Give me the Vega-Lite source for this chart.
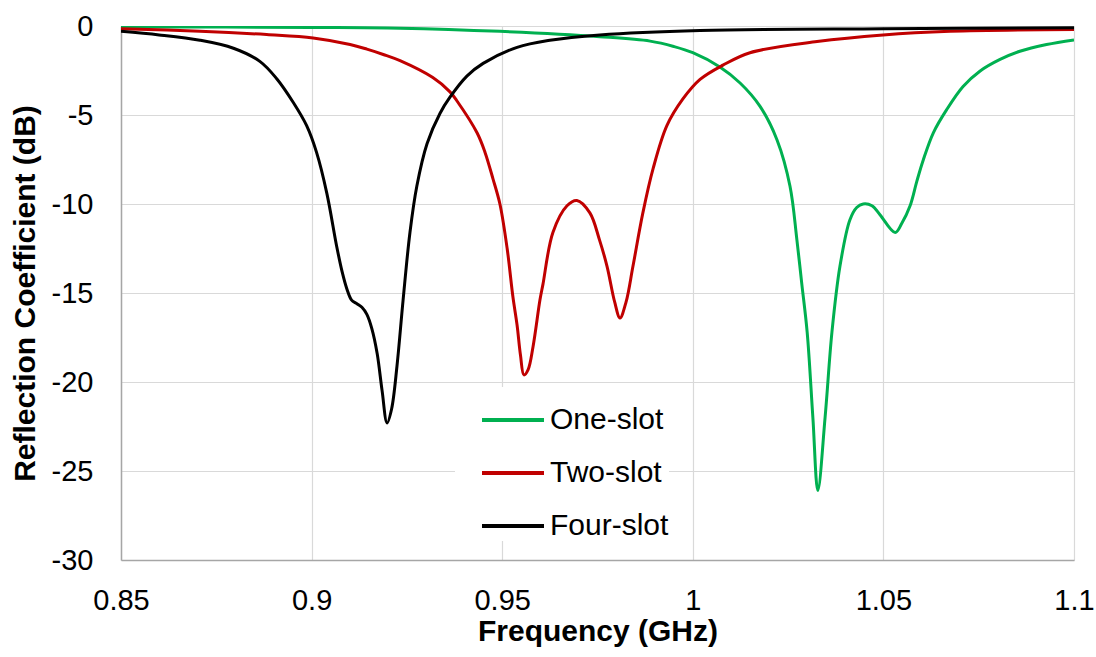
{
  "$schema": "https://vega.github.io/schema/vega-lite/v6.json",
  "width": 953,
  "height": 534,
  "autosize": "none",
  "padding": {"left": 121, "top": 26, "right": 22, "bottom": 97},
  "background": "white",
  "config": {"view": {"stroke": null}, "font": "Liberation Sans"},
  "datasets": {
    "curves": [
      {"f": 0.85, "db": -0.05, "series": "One-slot"},
      {"f": 0.9, "db": -0.08, "series": "One-slot"},
      {"f": 0.9232, "db": -0.12, "series": "One-slot"},
      {"f": 0.9494, "db": -0.3, "series": "One-slot"},
      {"f": 0.9756, "db": -0.6, "series": "One-slot"},
      {"f": 0.9888, "db": -0.85, "series": "One-slot"},
      {"f": 0.995, "db": -1.15, "series": "One-slot"},
      {"f": 1.0, "db": -1.5, "series": "One-slot"},
      {"f": 1.0071, "db": -2.3, "series": "One-slot"},
      {"f": 1.0124, "db": -3.2, "series": "One-slot"},
      {"f": 1.0176, "db": -4.5, "series": "One-slot"},
      {"f": 1.0221, "db": -6.4, "series": "One-slot"},
      {"f": 1.0255, "db": -9.0, "series": "One-slot"},
      {"f": 1.0273, "db": -12.0, "series": "One-slot"},
      {"f": 1.0286, "db": -14.5, "series": "One-slot"},
      {"f": 1.03, "db": -17.2, "series": "One-slot"},
      {"f": 1.0315, "db": -22.0, "series": "One-slot"},
      {"f": 1.0328, "db": -26.1, "series": "One-slot"},
      {"f": 1.0347, "db": -22.0, "series": "One-slot"},
      {"f": 1.0365, "db": -17.2, "series": "One-slot"},
      {"f": 1.0386, "db": -13.5, "series": "One-slot"},
      {"f": 1.0412, "db": -10.9, "series": "One-slot"},
      {"f": 1.043, "db": -10.2, "series": "One-slot"},
      {"f": 1.0447, "db": -10.0, "series": "One-slot"},
      {"f": 1.047, "db": -10.1, "series": "One-slot"},
      {"f": 1.0491, "db": -10.6, "series": "One-slot"},
      {"f": 1.0531, "db": -11.6, "series": "One-slot"},
      {"f": 1.0548, "db": -11.1, "series": "One-slot"},
      {"f": 1.057, "db": -10.1, "series": "One-slot"},
      {"f": 1.0588, "db": -8.7, "series": "One-slot"},
      {"f": 1.0605, "db": -7.5, "series": "One-slot"},
      {"f": 1.0631, "db": -6.0, "series": "One-slot"},
      {"f": 1.0666, "db": -4.7, "series": "One-slot"},
      {"f": 1.0709, "db": -3.4, "series": "One-slot"},
      {"f": 1.0753, "db": -2.54, "series": "One-slot"},
      {"f": 1.0806, "db": -1.88, "series": "One-slot"},
      {"f": 1.0858, "db": -1.42, "series": "One-slot"},
      {"f": 1.0928, "db": -1.04, "series": "One-slot"},
      {"f": 1.1, "db": -0.78, "series": "One-slot"},

      {"f": 0.85, "db": -0.15, "series": "Two-slot"},
      {"f": 0.8707, "db": -0.29, "series": "Two-slot"},
      {"f": 0.8882, "db": -0.48, "series": "Two-slot"},
      {"f": 0.9004, "db": -0.67, "series": "Two-slot"},
      {"f": 0.9101, "db": -1.04, "series": "Two-slot"},
      {"f": 0.9145, "db": -1.3, "series": "Two-slot"},
      {"f": 0.9188, "db": -1.6, "series": "Two-slot"},
      {"f": 0.9232, "db": -1.95, "series": "Two-slot"},
      {"f": 0.9318, "db": -2.9, "series": "Two-slot"},
      {"f": 0.9363, "db": -3.7, "series": "Two-slot"},
      {"f": 0.9381, "db": -4.2, "series": "Two-slot"},
      {"f": 0.9434, "db": -6.0, "series": "Two-slot"},
      {"f": 0.9455, "db": -7.1, "series": "Two-slot"},
      {"f": 0.9476, "db": -8.6, "series": "Two-slot"},
      {"f": 0.9494, "db": -10.0, "series": "Two-slot"},
      {"f": 0.9513, "db": -12.5, "series": "Two-slot"},
      {"f": 0.9528, "db": -15.2, "series": "Two-slot"},
      {"f": 0.9539, "db": -16.8, "series": "Two-slot"},
      {"f": 0.9548, "db": -18.5, "series": "Two-slot"},
      {"f": 0.9557, "db": -19.6, "series": "Two-slot"},
      {"f": 0.9568, "db": -19.3, "series": "Two-slot"},
      {"f": 0.9581, "db": -18.0, "series": "Two-slot"},
      {"f": 0.9599, "db": -15.4, "series": "Two-slot"},
      {"f": 0.9607, "db": -14.5, "series": "Two-slot"},
      {"f": 0.9633, "db": -11.6, "series": "Two-slot"},
      {"f": 0.967, "db": -10.1, "series": "Two-slot"},
      {"f": 0.9696, "db": -9.8, "series": "Two-slot"},
      {"f": 0.973, "db": -10.5, "series": "Two-slot"},
      {"f": 0.9755, "db": -12.0, "series": "Two-slot"},
      {"f": 0.9775, "db": -13.5, "series": "Two-slot"},
      {"f": 0.9795, "db": -15.5, "series": "Two-slot"},
      {"f": 0.9809, "db": -16.4, "series": "Two-slot"},
      {"f": 0.9825, "db": -15.5, "series": "Two-slot"},
      {"f": 0.9843, "db": -13.5, "series": "Two-slot"},
      {"f": 0.9869, "db": -10.5, "series": "Two-slot"},
      {"f": 0.9896, "db": -8.0, "series": "Two-slot"},
      {"f": 0.9932, "db": -5.6, "series": "Two-slot"},
      {"f": 0.9974, "db": -4.1, "series": "Two-slot"},
      {"f": 1.0019, "db": -3.0, "series": "Two-slot"},
      {"f": 1.0079, "db": -2.2, "series": "Two-slot"},
      {"f": 1.015, "db": -1.5, "series": "Two-slot"},
      {"f": 1.0326, "db": -0.87, "series": "Two-slot"},
      {"f": 1.0499, "db": -0.5, "series": "Two-slot"},
      {"f": 1.0675, "db": -0.3, "series": "Two-slot"},
      {"f": 1.1, "db": -0.2, "series": "Two-slot"},

      {"f": 0.85, "db": -0.3, "series": "Four-slot"},
      {"f": 0.86, "db": -0.5, "series": "Four-slot"},
      {"f": 0.8707, "db": -0.8, "series": "Four-slot"},
      {"f": 0.8795, "db": -1.25, "series": "Four-slot"},
      {"f": 0.8865, "db": -2.0, "series": "Four-slot"},
      {"f": 0.8908, "db": -2.95, "series": "Four-slot"},
      {"f": 0.8952, "db": -4.3, "series": "Four-slot"},
      {"f": 0.8987, "db": -5.6, "series": "Four-slot"},
      {"f": 0.9013, "db": -7.1, "series": "Four-slot"},
      {"f": 0.904, "db": -9.4, "series": "Four-slot"},
      {"f": 0.9066, "db": -12.4, "series": "Four-slot"},
      {"f": 0.908, "db": -13.8, "series": "Four-slot"},
      {"f": 0.9093, "db": -14.8, "series": "Four-slot"},
      {"f": 0.9105, "db": -15.4, "series": "Four-slot"},
      {"f": 0.9119, "db": -15.6, "series": "Four-slot"},
      {"f": 0.9132, "db": -15.8, "series": "Four-slot"},
      {"f": 0.9145, "db": -16.2, "series": "Four-slot"},
      {"f": 0.9158, "db": -17.0, "series": "Four-slot"},
      {"f": 0.9172, "db": -18.4, "series": "Four-slot"},
      {"f": 0.9185, "db": -20.5, "series": "Four-slot"},
      {"f": 0.9198, "db": -22.3, "series": "Four-slot"},
      {"f": 0.921, "db": -21.5, "series": "Four-slot"},
      {"f": 0.9224, "db": -19.1, "series": "Four-slot"},
      {"f": 0.924, "db": -15.4, "series": "Four-slot"},
      {"f": 0.9258, "db": -11.6, "series": "Four-slot"},
      {"f": 0.9276, "db": -9.0, "series": "Four-slot"},
      {"f": 0.9303, "db": -6.6, "series": "Four-slot"},
      {"f": 0.9337, "db": -4.9, "series": "Four-slot"},
      {"f": 0.9363, "db": -4.0, "series": "Four-slot"},
      {"f": 0.9408, "db": -2.8, "series": "Four-slot"},
      {"f": 0.945, "db": -2.1, "series": "Four-slot"},
      {"f": 0.9539, "db": -1.2, "series": "Four-slot"},
      {"f": 0.9625, "db": -0.8, "series": "Four-slot"},
      {"f": 0.9756, "db": -0.5, "series": "Four-slot"},
      {"f": 1.0019, "db": -0.25, "series": "Four-slot"},
      {"f": 1.05, "db": -0.15, "series": "Four-slot"},
      {"f": 1.1, "db": -0.1, "series": "Four-slot"}
    ]
  },
  "data": {"name": "curves"},
  "mark": {"type": "line", "strokeWidth": 3, "interpolate": "catmull-rom", "clip": true},
  "encoding": {
    "x": {
      "field": "f",
      "type": "quantitative",
      "scale": {"domain": [0.85, 1.1], "nice": false, "zero": false},
      "axis": {
        "values": [0.85, 0.9, 0.95, 1, 1.05, 1.1],
        "format": ".2~f",
        "title": "Frequency (GHz)",
        "grid": true,
        "gridColor": "#d9d9d9",
        "gridWidth": 1.2,
        "domainColor": "#a6a6a6",
        "domainWidth": 1.5,
        "ticks": false,
        "tickSize": 0,
        "labelFontSize": 29,
        "labelColor": "#000000",
        "labelPadding": 26,
        "labelFlush": false,
        "titleFontSize": 30,
        "titleFontWeight": "bold",
        "titleColor": "#000000",
        "titlePadding": 1
      }
    },
    "y": {
      "field": "db",
      "type": "quantitative",
      "scale": {"domain": [-30, 0], "nice": false},
      "axis": {
        "values": [-30, -25, -20, -15, -10, -5, 0],
        "labelExpr": "datum.value + ''",
        "title": "Reflection Coefficient (dB)",
        "grid": true,
        "gridColor": "#d9d9d9",
        "gridWidth": 1.2,
        "domainColor": "#a6a6a6",
        "domainWidth": 1.5,
        "ticks": false,
        "tickSize": 0,
        "labelFontSize": 29,
        "labelColor": "#000000",
        "labelPadding": 28,
        "labelFlush": false,
        "titleFontSize": 30,
        "titleFontWeight": "bold",
        "titleColor": "#000000",
        "titlePadding": 11
      }
    },
    "color": {
      "field": "series",
      "type": "nominal",
      "scale": {"domain": ["One-slot", "Two-slot", "Four-slot"], "range": ["#00b050", "#c00000", "#000000"]},
      "legend": {
        "title": null,
        "orient": "none",
        "legendX": 334,
        "legendY": 361,
        "padding": 0,
        "fillColor": "white",
        "strokeColor": null,
        "symbolType": "stroke",
        "symbolSize": 3844,
        "symbolStrokeWidth": 4,
        "symbolOffset": 25,
        "labelFontSize": 30,
        "labelColor": "#000000",
        "labelOffset": 4,
        "rowPadding": 5
      }
    }
  }
}
